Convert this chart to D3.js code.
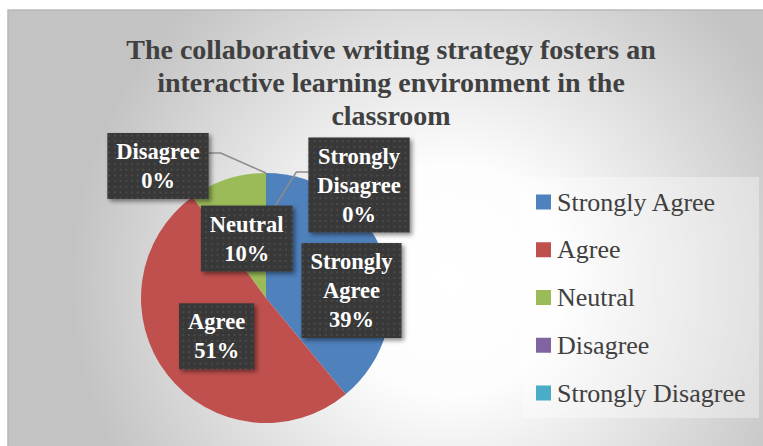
<!DOCTYPE html>
<html>
<head>
<meta charset="utf-8">
<script src="https://cdn.jsdelivr.net/npm/d3@7"></script>
<style>
  body { margin: 0; background: #fff; }
  svg { display: block; }
</style>
</head>
<body>
<div id="chart"></div>
<script>
// chart data
var categories = ["Strongly Agree", "Agree", "Neutral", "Disagree", "Strongly Disagree"];
var percents = [39, 51, 10, 0, 0];
var colors = ["#4f81bd", "#c0504d", "#9bbb59", "#8064a2", "#4bacc6"];
var titleLines = ["The collaborative writing strategy fosters an", "interactive learning environment in the", "classroom"];

var svgWidth = 763;
var svgHeight = 446;

// pie geometry
var cx = 266, cy = 298, radius = 125;

// labels that were dragged away from their slice (offsets from pie centre)
var movedLabels = {
  "Strongly Agree": [85.5, -7.5],
  "Disagree": [-108, -132],
  "Strongly Disagree": [93, -113]
};
// leader lines: which side of the box, and how deep into the pie they point
var leaders = {
  "Disagree": { side: 1, depth: 1.0 },
  "Strongly Disagree": { side: -1, depth: 0.62 }
};

var svg = d3.select("#chart")
  .append("svg")
  .attr("width", svgWidth)
  .attr("height", svgHeight);

var defs = svg.append("defs");

// background gradient
var bg = defs.append("radialGradient")
  .attr("id", "bgGrad")
  .attr("gradientUnits", "userSpaceOnUse")
  .attr("cx", 450).attr("cy", 280).attr("r", 380);
bg.append("stop").attr("offset", 0).attr("stop-color", "#ffffff");
bg.append("stop").attr("offset", 0.3).attr("stop-color", "#fdfdfd");
bg.append("stop").attr("offset", 1).attr("stop-color", "#c3c3c3");

// dotted dark pattern for data labels
var pat = defs.append("pattern")
  .attr("id", "dots")
  .attr("patternUnits", "userSpaceOnUse")
  .attr("width", 5.7).attr("height", 5.7);
pat.append("rect").attr("width", 5.7).attr("height", 5.7).attr("fill", "#383838");
pat.append("rect").attr("x", 2).attr("y", 2).attr("width", 1.6).attr("height", 1.6).attr("fill", "#525252");

var shadow = defs.append("filter")
  .attr("id", "shadow")
  .attr("x", "-20%").attr("y", "-20%").attr("width", "150%").attr("height", "150%");
shadow.append("feDropShadow")
  .attr("dx", 2.5).attr("dy", 2.5)
  .attr("stdDeviation", 2)
  .attr("flood-color", "#000")
  .attr("flood-opacity", 0.45);

// chart area
svg.append("rect")
  .attr("x", 8).attr("y", 10)
  .attr("width", 820).attr("height", 500)
  .attr("fill", "url(#bgGrad)")
  .attr("stroke", "#b9b9b9")
  .attr("stroke-width", 1.5);

// title
svg.append("g")
  .selectAll("text")
  .data(titleLines)
  .enter()
  .append("text")
  .attr("x", 391)
  .attr("y", (d, i) => 59 + i * 33)
  .attr("text-anchor", "middle")
  .attr("font-family", "'Liberation Serif', serif")
  .attr("font-weight", "bold")
  .attr("font-size", "28px")
  .attr("fill", "#404040")
  .text(d => d);

var data = categories.map((c, i) => ({ name: c, value: percents[i], color: colors[i] }));

var pie = d3.pie()
  .sort(null)
  .value(d => d.value);

var arc = d3.arc()
  .innerRadius(0)
  .outerRadius(radius);

var labelArc = d3.arc()
  .innerRadius(radius * 0.5)
  .outerRadius(radius * 0.5);

var arcs = pie(data);

var pieGroup = svg.append("g")
  .attr("transform", `translate(${cx}, ${cy})`);

pieGroup.selectAll("path")
  .data(arcs)
  .enter()
  .append("path")
  .attr("d", arc)
  .attr("fill", d => d.data.color);

// work out label boxes
var lineH = 29;
var labels = arcs.map(d => {
  var pos = movedLabels[d.data.name] || labelArc.centroid(d);
  var lines = d.data.name.split(" ").concat(d.data.value + "%");
  return { arc: d, x: pos[0], y: pos[1], lines: lines };
});

var leaderGroup = pieGroup.append("g");
var labelGroup = pieGroup.append("g");

labels.forEach(lab => {
  var g = labelGroup.append("g");
  var box = g.append("rect")
    .attr("fill", "url(#dots)")
    .attr("filter", "url(#shadow)");

  var first = lab.y - (lab.lines.length - 1) / 2 * lineH + 7.5;
  var texts = g.selectAll("text")
    .data(lab.lines)
    .enter()
    .append("text")
    .attr("x", lab.x)
    .attr("y", (d, i) => first + i * lineH)
    .attr("text-anchor", "middle")
    .attr("font-family", "'Liberation Serif', serif")
    .attr("font-weight", "bold")
    .attr("font-size", "22.5px")
    .attr("fill", "#ffffff")
    .text(d => d);

  var w = d3.max(texts.nodes(), n => n.getComputedTextLength()) + 18;
  var h = lab.lines.length * lineH + 8;
  box.attr("x", lab.x - w / 2)
    .attr("y", lab.y - h / 2)
    .attr("width", w)
    .attr("height", h);

  // leader line for the zero slices
  var ld = leaders[lab.arc.data.name];
  if (ld) {
    var sx = lab.x + ld.side * w / 2;
    var sy = lab.y - 13;
    var mid = (lab.arc.startAngle + lab.arc.endAngle) / 2;
    var r = radius * ld.depth;
    var ex = r * Math.sin(mid);
    var ey = -r * Math.cos(mid);
    leaderGroup.append("polyline")
      .attr("points", [[sx, sy], [sx + ld.side * 12, sy], [ex, ey]].map(p => p.join(",")).join(" "))
      .attr("fill", "none")
      .attr("stroke", "#8c8c8c")
      .attr("stroke-width", 1.5);
  }
});

// legend
var legend = svg.append("g");
legend.append("rect")
  .attr("x", 523).attr("y", 177)
  .attr("width", 236).attr("height", 241)
  .attr("fill", "#ffffff")
  .attr("fill-opacity", 0.35);

var legendY = d3.scalePoint()
  .domain(categories)
  .range([202, 393]);

var items = legend.selectAll(".item")
  .data(data)
  .enter()
  .append("g")
  .attr("class", "item")
  .attr("transform", d => `translate(536, ${legendY(d.name)})`);

items.append("rect")
  .attr("x", 0).attr("y", -7.5)
  .attr("width", 15).attr("height", 15)
  .attr("fill", d => d.color);

items.append("text")
  .attr("x", 21)
  .attr("y", 8.5)
  .attr("font-family", "'Liberation Serif', serif")
  .attr("font-size", "26px")
  .attr("fill", "#404040")
  .text(d => d.name);
</script>
</body>
</html>
